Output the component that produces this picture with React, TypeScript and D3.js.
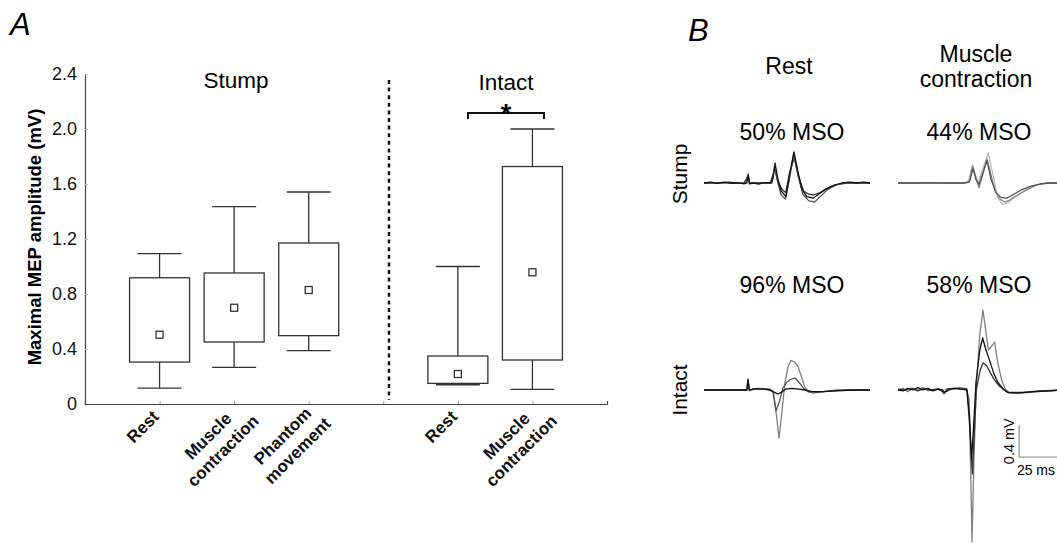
import React, { useEffect, useRef } from "react";
import * as d3 from "d3";

const W = 1057;
const H = 544;
const FONT = "'Liberation Sans', Arial, Helvetica, sans-serif";

// ---- Panel A: box summaries (mV) ----
const stumpCats = [["Rest"], ["Muscle", "contraction"], ["Phantom", "movement"]];
const stumpWhiskLo = [0.116, 0.267, 0.388];
const stumpQ1 = [0.305, 0.451, 0.497];
const stumpMean = [0.504, 0.7, 0.829];
const stumpQ3 = [0.918, 0.953, 1.171];
const stumpWhiskHi = [1.093, 1.435, 1.542];

const intactCats = [["Rest"], ["Muscle", "contraction"]];
const intactWhiskLo = [0.14, 0.107];
const intactQ1 = [0.15, 0.32];
const intactMean = [0.218, 0.958];
const intactQ3 = [0.349, 1.727];
const intactWhiskHi = [1.0, 2.0];

const yTicks = [0, 0.4, 0.8, 1.2, 1.6, 2.0, 2.4];

// ---- Panel B: MEP traces, [time ms, amplitude mV] ----
const stumpRest1 = [[0,0],[4,0.01],[8,-0.005],[12,0.01],[16,0],[20,0.005],[24,-0.01],[25.8,0],[26.6,0.11],[27.4,-0.01],[30,0],[33,-0.015],[36,0.005],[40,0],[41.5,0.05],[42.8,0.25],[44.5,0.05],[46.5,-0.1],[49.4,-0.17],[51.5,0.1],[54.2,0.39],[56.5,0.15],[59,-0.08],[62,-0.17],[65.7,-0.19],[69,-0.14],[73,-0.08],[78,-0.03],[83,0],[88,0.01],[92,0],[96,0.01],[100,0]];
const stumpRest2 = [[0,0],[5,0.005],[10,0],[15,0.01],[20,0],[25,0],[26.6,0.1],[27.4,0],[32,0],[38,0.005],[41,0],[42.5,0.2],[44.5,0],[46.5,-0.15],[49,-0.2],[51.5,0.05],[54,0.36],[56.5,0.1],[59.5,-0.14],[63,-0.22],[66.5,-0.24],[70,-0.17],[74,-0.09],[79,-0.03],[84,0],[90,0],[100,0]];
const stumpRest3 = [[0,0],[6,0],[12,0.005],[18,-0.005],[24,0],[26.6,0.09],[27.4,0],[34,0],[40,0],[42.6,0.18],[44.5,0.02],[47,-0.08],[49.2,-0.12],[51.5,0.12],[54.4,0.32],[57,0.08],[60,-0.1],[63,-0.14],[66,-0.15],[70,-0.12],[75,-0.06],[80,-0.02],[86,0],[100,0]];

const stumpMuscle1 = [[0,0],[10,0],[20,0.005],[30,0],[40,0],[43,0.02],[45,0.22],[47,0.06],[48.8,-0.06],[51,0.1],[53.6,0.3],[56,0.1],[58.5,-0.1],[61.5,-0.2],[64.5,-0.24],[67.5,-0.21],[72,-0.15],[78,-0.08],[84,-0.02],[90,0],[100,0]];
const stumpMuscle2 = [[0,0],[15,0],[30,0],[40,0],[42.5,0.03],[44.5,0.2],[46.5,0.1],[48.5,0],[51,0.18],[54.4,0.375],[57,0.12],[60,-0.18],[63,-0.27],[66,-0.25],[70,-0.18],[76,-0.1],[82,-0.04],[88,0],[100,0]];
const stumpMuscle3 = [[0,0],[20,0],[40,0],[43,0.01],[45.2,0.18],[47,0.04],[48.8,-0.02],[51,0.12],[53.6,0.28],[56,0.05],[59,-0.12],[62,-0.18],[65.5,-0.19],[69,-0.15],[74,-0.09],[80,-0.04],[86,-0.01],[92,0],[100,0]];

const intactRest1 = [[0,0],[8,0],[16,0],[22,0],[25.8,0],[26.5,0.14],[27.3,-0.01],[30,0.01],[35,0.02],[40,0.01],[42,-0.04],[43.8,-0.35],[45.2,-0.6],[46.8,-0.3],[48.8,0.1],[50.8,0.3],[52.4,0.37],[54.5,0.35],[56.5,0.3],[58.5,0.18],[60.5,0.05],[62.5,-0.02],[66,-0.04],[72,-0.02],[80,0],[90,0],[100,0]];
const intactRest2 = [[0,0],[10,0],[20,0],[25.8,0],[26.5,0.12],[27.3,0],[32,0.02],[38,0.01],[41.5,-0.02],[43.4,-0.26],[45.5,-0.14],[47.5,0.02],[49.5,0.09],[52,0.13],[54.8,0.15],[57.5,0.09],[60,0.02],[63,-0.02],[68,-0.03],[76,-0.01],[86,0],[100,0]];
const intactRest3 = [[0,0],[12,0],[22,0],[25.8,0],[26.5,0.13],[27.3,0],[30,0.015],[36,0.01],[40,0],[42.5,-0.03],[44.5,-0.05],[46.5,-0.03],[49,0.01],[53,0.02],[57,0.01],[61,0],[65,-0.02],[72,-0.02],[80,-0.01],[90,0],[100,0]];

const intactMuscle1 = [[0,0],[3,0.02],[6,-0.02],[9,0.025],[12,0],[15,0.03],[18,-0.01],[21,0],[24,0.02],[26,0],[27.5,-0.05],[29,0.01],[33,0.02],[37,0.03],[41,0.02],[42.8,-0.1],[43.8,-1.0],[44.6,-1.9],[45.6,-1.0],[47,0],[49.3,0.7],[51.2,1.0],[53,0.72],[54.5,0.5],[56.5,0.55],[58.2,0.6],[60,0.35],[62.5,0.12],[65,0],[67,-0.04],[72,-0.04],[80,-0.03],[90,-0.01],[100,0]];
const intactMuscle2 = [[0,0],[3,-0.01],[6,0.02],[9,0],[12,0.03],[15,0],[18,0.02],[21,-0.01],[24,0.01],[27,0],[28,-0.04],[30,0.01],[34,0.02],[38,0.01],[41.5,0.01],[43,-0.3],[44.3,-0.87],[45.4,-0.5],[47,0.1],[49.3,0.5],[51,0.65],[53,0.5],[55,0.38],[57.5,0.22],[60,0.1],[63,0.02],[66,-0.03],[72,-0.04],[82,-0.02],[92,-0.01],[100,0]];
const intactMuscle3 = [[0,0.01],[4,0],[8,0.02],[12,-0.01],[16,0.02],[20,0],[24,0.01],[28,-0.03],[32,0.01],[36,0.02],[41.5,0],[43,-0.4],[44.8,-1.05],[45.8,-0.6],[47.2,0],[49.5,0.25],[51.3,0.34],[53.5,0.3],[55.5,0.22],[58,0.13],[61,0.05],[64,0],[67,-0.03],[75,-0.03],[85,-0.01],[100,0]];

const colHeads = [["Rest"], ["Muscle", "contraction"]];
const msoLabels = [["50% MSO", "44% MSO"], ["96% MSO", "58% MSO"]];
const rowLabels = ["Stump", "Intact"];

export default function App() {
  const ref = useRef<SVGSVGElement>(null);

  useEffect(() => {
    const svg = d3.select(ref.current);
    svg.selectAll("*").remove();
    svg.attr("font-family", FONT);

    // ================= Panel A =================
    const x = d3.scaleLinear().domain([0, 7]).range([85, 607]);
    const y = d3.scaleLinear().domain([0, 2.4]).range([404, 74]);
    const axisCol = "#444";

    svg.append("text").attr("x", 10).attr("y", 35).attr("font-size", 31)
      .attr("font-style", "italic").text("A");

    // y axis
    const gy = svg.append("g").attr("transform", `translate(${x(0)},0)`)
      .call(d3.axisLeft(y).tickValues(yTicks).tickSize(-3).tickPadding(8)
        .tickFormat((d: any) => (d === 0 ? "0" : d3.format(".1f")(d))));
    gy.select(".domain").attr("stroke", axisCol).attr("stroke-width", 1.2);
    gy.selectAll(".tick line").attr("stroke", "#bbb");
    gy.selectAll(".tick text").attr("font-size", 18).attr("font-family", FONT).attr("fill", "#111");

    // x axis
    const gx = svg.append("g").attr("transform", `translate(0,${y(0)})`)
      .call(d3.axisBottom(x).tickValues([1, 2, 3, 4, 5, 6]).tickSize(-3).tickFormat(() => ""));
    gx.select(".domain").attr("stroke", axisCol).attr("stroke-width", 1.2);
    gx.selectAll(".tick line").attr("stroke", "#999");

    svg.append("text")
      .attr("transform", `translate(41,237) rotate(-90)`)
      .attr("text-anchor", "middle").attr("font-size", 18.5).attr("font-weight", "bold")
      .text("Maximal MEP amplitude (mV)");

    // divider
    svg.append("line").attr("x1", 389).attr("x2", 389).attr("y1", 80).attr("y2", 400)
      .attr("stroke", "#111").attr("stroke-width", 2.5).attr("stroke-dasharray", "4 3.6");

    const groups = [
      { slots: [1, 2, 3], cats: stumpCats, lo: stumpWhiskLo, q1: stumpQ1, mean: stumpMean, q3: stumpQ3, hi: stumpWhiskHi },
      { slots: [5, 6], cats: intactCats, lo: intactWhiskLo, q1: intactQ1, mean: intactMean, q3: intactQ3, hi: intactWhiskHi },
    ];
    const boxW = 60, capW = 44, ms = 7;
    const stroke = "#333";
    groups.forEach((g) => {
      g.slots.forEach((s, i) => {
        const cx = x(s);
        const gb = svg.append("g").attr("stroke", stroke).attr("stroke-width", 1.3).attr("fill", "none");
        gb.append("line").attr("x1", cx).attr("x2", cx).attr("y1", y(g.hi[i])).attr("y2", y(g.q3[i]));
        gb.append("line").attr("x1", cx).attr("x2", cx).attr("y1", y(g.q1[i])).attr("y2", y(g.lo[i]));
        gb.append("line").attr("x1", cx - capW / 2).attr("x2", cx + capW / 2).attr("y1", y(g.hi[i])).attr("y2", y(g.hi[i]));
        gb.append("line").attr("x1", cx - capW / 2).attr("x2", cx + capW / 2).attr("y1", y(g.lo[i])).attr("y2", y(g.lo[i]));
        gb.append("rect").attr("x", cx - boxW / 2).attr("width", boxW)
          .attr("y", y(g.q3[i])).attr("height", y(g.q1[i]) - y(g.q3[i]));
        gb.append("rect").attr("x", cx - ms / 2).attr("y", y(g.mean[i]) - ms / 2)
          .attr("width", ms).attr("height", ms).attr("fill", "#fff");

        const lines = g.cats[i];
        const u = lines.length === 1 ? -28 : -41;
        const t = svg.append("text")
          .attr("transform", `translate(${cx},${y(0)}) rotate(-45)`)
          .attr("text-anchor", "middle").attr("font-size", 17).attr("font-weight", "bold").attr("fill", "#111");
        lines.forEach((ln, k) => {
          t.append("tspan").attr("x", u).attr("y", 10 + k * 21).text(ln);
        });
      });
    });

    svg.append("text").attr("x", 236).attr("y", 88).attr("text-anchor", "middle")
      .attr("font-size", 22.5).text("Stump");
    svg.append("text").attr("x", 506).attr("y", 90).attr("text-anchor", "middle")
      .attr("font-size", 22.5).text("Intact");

    // significance bracket
    svg.append("path").attr("d", `M468,119V113H544V119`).attr("fill", "none")
      .attr("stroke", "#111").attr("stroke-width", 2);
    svg.append("text").attr("x", 506).attr("y", 123).attr("text-anchor", "middle")
      .attr("font-size", 27).attr("font-weight", "bold").text("*");

    // ================= Panel B =================
    svg.append("text").attr("x", 688).attr("y", 41).attr("font-size", 31)
      .attr("font-style", "italic").text("B");

    const colX = [
      d3.scaleLinear().domain([0, 100]).range([704, 870]),
      d3.scaleLinear().domain([0, 100]).range([898, 1064]),
    ];
    const rowBase = [183, 390];
    const rowY = rowBase.map((b) => d3.scaleLinear().domain([-1, 1]).range([b + 80, b - 80]));

    const traces = [
      [
        [{ d: stumpRest3, c: "#333" }, { d: stumpRest2, c: "#555" }, { d: stumpRest1, c: "#111" }],
        [{ d: stumpMuscle2, c: "#bbb" }, { d: stumpMuscle1, c: "#888" }, { d: stumpMuscle3, c: "#555" }],
      ],
      [
        [{ d: intactRest1, c: "#808080" }, { d: intactRest2, c: "#555" }, { d: intactRest3, c: "#111" }],
        [{ d: intactMuscle1, c: "#808080" }, { d: intactMuscle3, c: "#333" }, { d: intactMuscle2, c: "#111" }],
      ],
    ];

    traces.forEach((row, r) => {
      row.forEach((col, c) => {
        const line = d3.line<number[]>().x((p) => colX[c](p[0])).y((p) => rowY[r](p[1]));
        col.forEach((tr) => {
          svg.append("path").attr("d", line(tr.d as number[][]))
            .attr("fill", "none").attr("stroke", tr.c).attr("stroke-width", 1.3)
            .attr("stroke-linejoin", "round");
        });
      });
    });

    // column heads
    const headX = [789, 976];
    svg.append("text").attr("x", headX[0]).attr("y", 74).attr("text-anchor", "middle")
      .attr("font-size", 23).text(colHeads[0][0]);
    colHeads[1].forEach((ln, k) => {
      svg.append("text").attr("x", headX[1]).attr("y", 62 + k * 25).attr("text-anchor", "middle")
        .attr("font-size", 23).text(ln);
    });
    const msoY = [140, 293];
    msoLabels.forEach((row, r) => row.forEach((lab, c) => {
      svg.append("text").attr("x", [792, 979][c]).attr("y", msoY[r]).attr("text-anchor", "middle")
        .attr("font-size", 23).text(lab);
    }));
    const rowLabY = [174, 390];
    rowLabels.forEach((lab, r) => {
      svg.append("text").attr("transform", `translate(687,${rowLabY[r]}) rotate(-90)`)
        .attr("text-anchor", "middle").attr("font-size", 21).text(lab);
    });

    // scale bar: 0.4 mV x 25 ms
    const sx = colX[1], sy = rowY[1];
    const t0 = 73, v0 = -0.84;
    svg.append("path")
      .attr("d", `M${sx(t0)},${sy(v0 + 0.4)}V${sy(v0)}H${sx(t0 + 25)}`)
      .attr("fill", "none").attr("stroke", "#999").attr("stroke-width", 1.3);
    svg.append("text").attr("transform", `translate(${sx(t0) - 5},${sy(v0 + 0.2)}) rotate(-90)`)
      .attr("text-anchor", "middle").attr("font-size", 14.5).text("0.4 mV");
    svg.append("text").attr("x", W - 2).attr("y", sy(v0) + 18)
      .attr("text-anchor", "end").attr("font-size", 14).text("25 ms");
  }, []);

  return (
    <svg ref={ref} width={W} height={H} viewBox={`0 0 ${W} ${H}`}
      style={{ position: "absolute", left: 0, top: 0, background: "#fff" }} />
  );
}
